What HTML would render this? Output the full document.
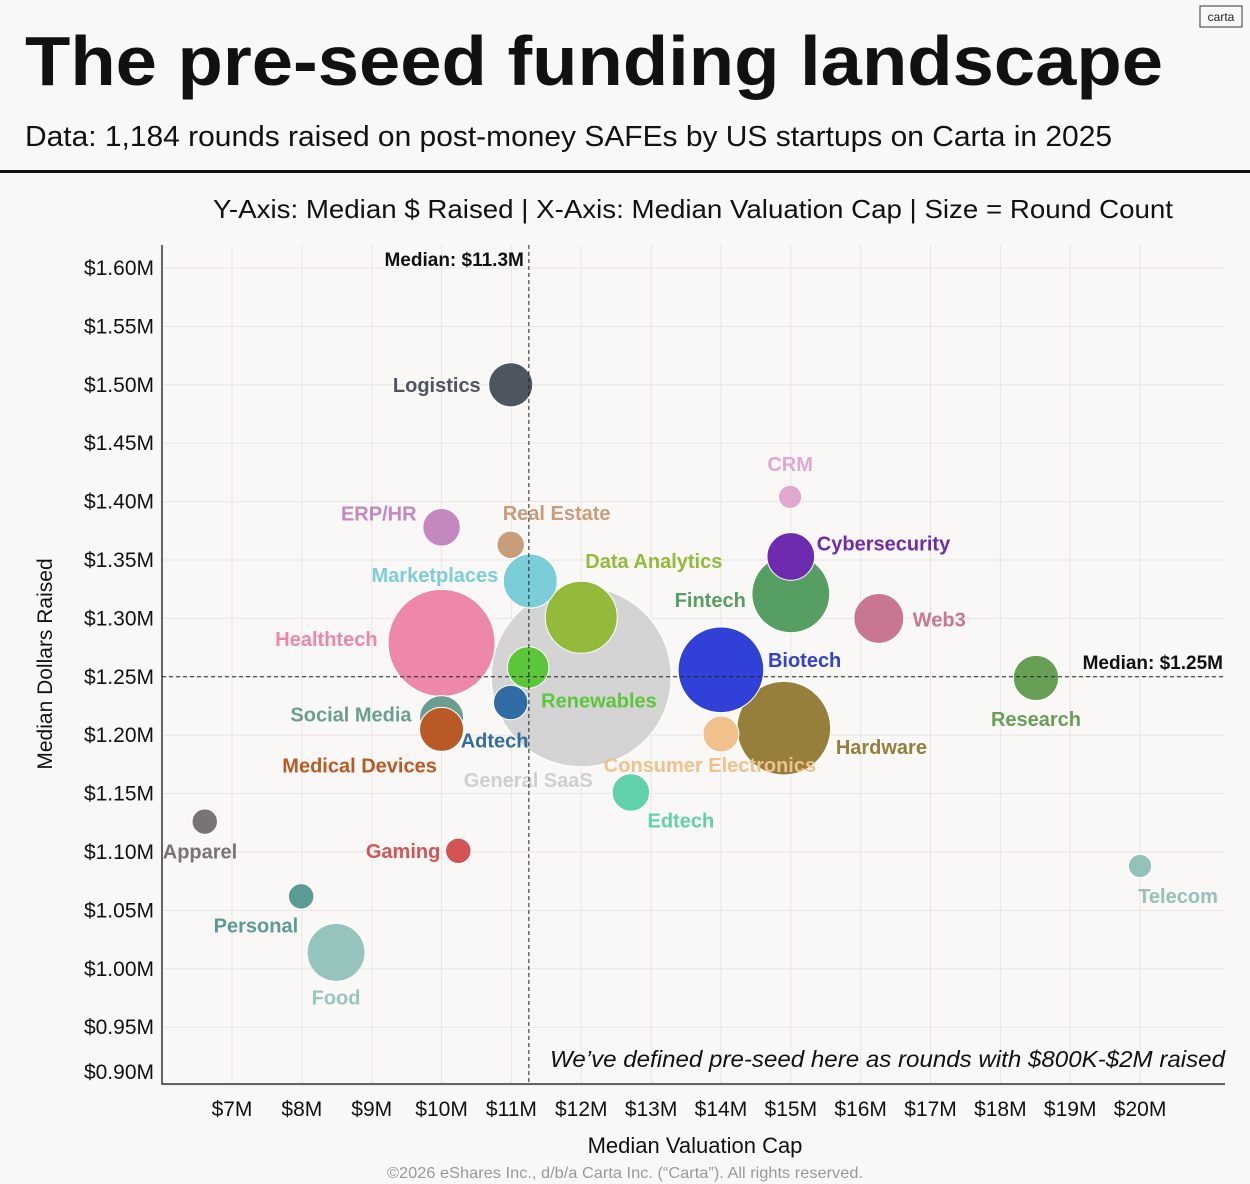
<!DOCTYPE html>
<html><head><meta charset="utf-8"><style>
html,body{margin:0;padding:0;background:#faf8f6;}
svg{display:block;font-family:"Liberation Sans",sans-serif;}
</style></head><body>
<svg id="chart" width="1250" height="1184" viewBox="0 0 1250 1184" xmlns="http://www.w3.org/2000/svg">
<rect x="0" y="0" width="1250" height="1184" fill="#faf8f6"/>
<text x="25" y="85" font-size="70" font-weight="bold" fill="#111" textLength="1138" lengthAdjust="spacingAndGlyphs">The pre-seed funding landscape</text>
<text x="25" y="146" font-size="29" fill="#111" textLength="1087" lengthAdjust="spacingAndGlyphs">Data: 1,184 rounds raised on post-money SAFEs by US startups on Carta in 2025</text>
<rect x="1200" y="6" width="42" height="21" fill="none" stroke="#333" stroke-width="1"/>
<text x="1221" y="21" font-size="12" text-anchor="middle" fill="#222">carta</text>
<rect x="0" y="170" width="1250" height="3" fill="#111"/>
<text x="693" y="218" font-size="26" fill="#111" text-anchor="middle" textLength="960" lengthAdjust="spacingAndGlyphs">Y-Axis: Median $ Raised | X-Axis: Median Valuation Cap | Size = Round Count</text>
<g id="grid"></g>
<g id="axes"></g>
<g id="bubbles"></g>
<g id="labels"></g>
<g id="medians"></g>
<text x="1225" y="1067" font-size="23" font-style="italic" fill="#111" text-anchor="end" textLength="675" lengthAdjust="spacingAndGlyphs">We’ve defined pre-seed here as rounds with $800K-$2M raised</text>
<text x="695" y="1153" font-size="22" fill="#111" text-anchor="middle">Median Valuation Cap</text>
<text x="52" y="664" font-size="21" fill="#111" text-anchor="middle" transform="rotate(-90 52 664)">Median Dollars Raised</text>
<text x="625" y="1178" font-size="16" fill="#999" text-anchor="middle" textLength="476" lengthAdjust="spacingAndGlyphs">©2026 eShares Inc., d/b/a Carta Inc. (“Carta”). All rights reserved.</text>
</svg>
<script>
const sectors = ["General SaaS","Healthtech","Hardware","Biotech","Fintech","Data Analytics","Food","Marketplaces","Web3","Cybersecurity","Research","Logistics","Social Media","Medical Devices","Renewables","ERP/HR","Edtech","Consumer Electronics","Adtech","Real Estate","Apparel","Gaming","Personal","CRM","Telecom"];
const valuationCap = [12.0,10.0,14.9,14.0,15.0,12.0,8.49,11.27,16.26,15.0,18.51,10.99,10.0,10.0,11.24,10.0,12.71,14.0,10.99,10.99,6.61,10.24,7.99,14.99,20.0];
const medianRaised = [1.25,1.279,1.206,1.256,1.321,1.301,1.014,1.332,1.30,1.353,1.249,1.50,1.215,1.205,1.258,1.378,1.151,1.201,1.228,1.363,1.126,1.101,1.062,1.404,1.088];
const roundCount = [300,106,81,68,56,48,31,27,23,21,19,18,18,18,16,13,13,12,11,7,6,6,6,5,5];
const colors = ["#d4d4d4","#ee88a8","#957f3b","#3140d6","#579e62","#93ba3a","#96c4bf","#7bcdd7","#c97690","#6f2bb0","#67a055","#4e5460","#6b9e92","#b95a26","#5cc63b","#c487bf","#5fd1ab","#f1c08b","#316ca4","#c99c7a","#7a7374","#d25553","#5c9a95","#e1a7cf","#94c1ba"];
const labelDx = [-53,-64,52,47,-45,4,0,-32,34,26,0,-30,-30,-82,13,-25,50,-11,-50,-8,-42,-18,-3,0,38];
const labelDy = [103,-4,19,-10,6,-56,45,-6,1,-13,41,0,-3,36,33,-14,28,31,38,-32,30,0,29,-33,30];
const labelAnchor = ["middle","end","start","start","end","start","middle","end","start","start","middle","end","end","middle","start","end","middle","middle","start","start","start","end","end","middle","middle"];
const labelColors = ["#cfcfcf","#ee88a8","#957f3b","#3140d6","#579e62","#93ba3a","#96c4bf","#7bcdd7","#c97690","#6f2bb0","#67a055","#4e5460","#6b9e92","#b95a26","#5cc63b","#c487bf","#5fd1ab","#f1c08b","#316ca4","#c99c7a","#7a7374","#d25553","#5c9a95","#e1a7cf","#94c1ba"];
const xTicks = [7,8,9,10,11,12,13,14,15,16,17,18,19,20];
const yTicks = [1.60,1.55,1.50,1.45,1.40,1.35,1.30,1.25,1.20,1.15,1.10,1.05,1.00,0.95,0.90];
const medianX = 11.25, medianY = 1.25;

const NS="http://www.w3.org/2000/svg";
const L=162,R=1225,T=245,B=1084;
function xs(v){return 232+(v-7)*69.85;}
function ys(v){return 268+(1.60-v)/0.05*58.4;}
function rs(n){return Math.sqrt(n/300)*90;}
function mk(tag,attrs,parent){const e=document.createElementNS(NS,tag);for(const k in attrs)e.setAttribute(k,attrs[k]);parent.appendChild(e);return e;}
const grid=document.getElementById('grid'),axes=document.getElementById('axes'),bub=document.getElementById('bubbles'),lab=document.getElementById('labels'),med=document.getElementById('medians');
xTicks.forEach(t=>{
  const g=mk('line',{x1:xs(t),x2:xs(t),y1:T,y2:B,stroke:'#e8e5e3','stroke-width':1},grid);
  
  
  const tx=mk('text',{x:xs(t),y:1116,'font-size':21,'text-anchor':'middle',fill:'#111'},axes);
  tx.textContent='$'+t+'M';
  
  
});
yTicks.forEach(t=>{
  const y=ys(t);
  const g=mk('line',{x1:L,x2:R,y1:y,y2:y,stroke:'#e8e5e3','stroke-width':1},grid);
  
  
  const ly=Math.min(y,1072);
  const tx=mk('text',{x:154,y:ly+7,'font-size':21,'text-anchor':'end',fill:'#111'},axes);
  tx.textContent='$'+t.toFixed(2)+'M';
  
  
});
const ax=mk('path',{d:`M${L} ${T} V${B} H${R}`,fill:'none',stroke:'#333','stroke-width':1.5},axes);


sectors.forEach((s,i)=>{
  const cx=xs(valuationCap[i]),cy=ys(medianRaised[i]);
  const c=mk('circle',{cx:cx,cy:cy,r:rs(roundCount[i]),fill:colors[i],stroke:'#fff','stroke-width':1},bub);
  
  
  const t=mk('text',{x:cx+labelDx[i],y:cy+labelDy[i]+7,'font-size':20,'font-weight':'bold','text-anchor':labelAnchor[i],fill:labelColors[i]},lab);
  t.textContent=s;
  
  
});
const mx=xs(medianX),my=ys(medianY);
const vl=mk('line',{x1:mx,x2:mx,y1:T,y2:B,stroke:'#222','stroke-width':1,'stroke-dasharray':'4 3'},med);


const hl=mk('line',{x1:L,x2:R,y1:my,y2:my,stroke:'#222','stroke-width':1,'stroke-dasharray':'4 3'},med);


const t1=mk('text',{x:mx-5,y:266,'font-size':19,'font-weight':'bold','text-anchor':'end',fill:'#111'},med);
t1.textContent='Median: $11.3M';


const t2=mk('text',{x:1223,y:my-8,'font-size':19,'font-weight':'bold','text-anchor':'end',fill:'#111'},med);
t2.textContent='Median: $'+medianY.toFixed(2)+'M';


</script>
</body></html>
